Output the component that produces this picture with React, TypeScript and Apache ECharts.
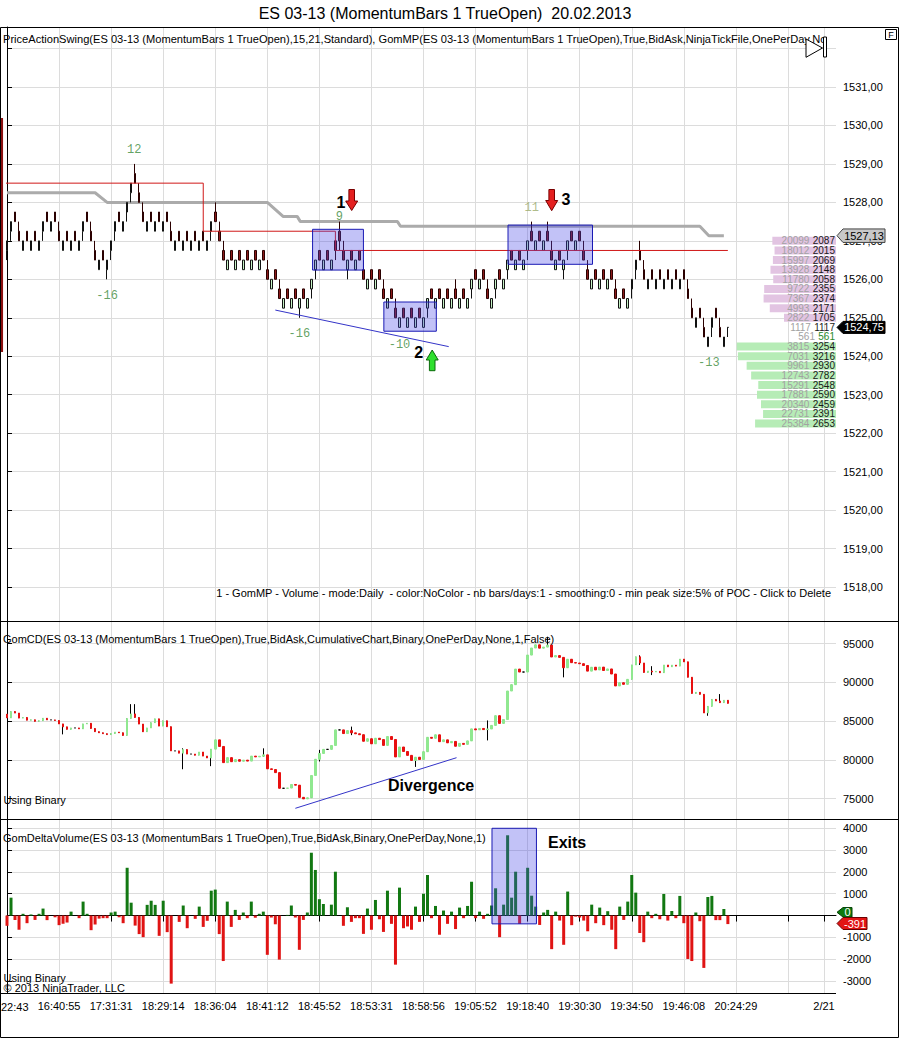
import React, { useEffect, useRef } from "react";
import * as echarts from "echarts";

const FONT = "'Liberation Sans', Arial, Helvetica, sans-serif";
const MONO = "'Liberation Mono', 'DejaVu Sans Mono', monospace";

// ---------- x axis ----------
const SLOTS = 208;
// the first label is cut by the left edge in the reference: only "22:43" shows
const firstTimeLabel = "22:43";
const timeLabelAt: [number, string][] = [
  [13, "16:40:55"], [26, "17:31:31"], [39, "18:29:14"], [52, "18:36:04"],
  [65, "18:41:12"], [78, "18:45:52"], [91, "18:53:31"], [104, "18:58:56"], [117, "19:05:52"],
  [130, "19:18:40"], [143, "19:30:30"], [156, "19:34:50"], [169, "19:46:08"], [182, "20:24:29"],
  [204, "2/21"],
];
const gridLineAt = [0, 13, 26, 39, 52, 65, 78, 91, 104, 117, 130, 143, 156, 169, 182, 195, 204];

// ---------- price bars (ticks of 0.25 from 1527.00) ----------
const priceBase = 1527;
const priceTick = 0.25;
const priceBodyLow = [
  -1, 1, 2, 0, -1, 0, -1, 0, -1, 1,
  2, 1, 2, 0, -1, 0, -1, 0, -1, 1,
  2, 0, -2, -3, -2, -3, -1, 1, 2, 1,
  3, 5, 6, 4, 2, 1, 2, 1, 2, 1,
  2, 0, -1, 0, -1, 0, -1, 0, -1, 0,
  -1, 1, 2, 0, -2, -3, -2, -3, -2, -3,
  -2, -3, -2, -3, -2, -4, -5, -4, -6, -7,
  -6, -7, -6, -7, -6, -7, -5, -3, -2, -3,
  -2, -3, -1, 0, -2, -3, -2, -3, -2, -4,
  -5, -4, -5, -4, -6, -7, -6, -8, -9, -8,
  -9, -8, -9, -8, -9, -7, -6, -7, -6, -7,
  -6, -7, -6, -7, -6, -7, -5, -4, -5, -4,
  -6, -7, -5, -4, -5, -3, -2, -3, -2, -3,
  -1, 0, -1, 0, -1, 0, -2, -3, -2, -3,
  -1, 0, -1, 0, -2, -4, -5, -4, -5, -4,
  -5, -4, -6, -7, -6, -7, -5, -3, -2, -4,
  -5, -4, -5, -4, -5, -4, -5, -4, -5, -4,
  -6, -8, -9, -8, -10, -11, -9, -8, -10, -11,
  -9,
];
// 1 = up bar, -1 = down bar, 0 = doji
const priceDir = [
  1, 1, -1, -1, 1, -1, 1, -1, 1, 1,
  -1, 1, -1, -1, 1, -1, 1, -1, 1, 1,
  -1, -1, -1, 1, -1, 1, 1, 1, -1, 1,
  1, 1, -1, -1, -1, 1, -1, 1, -1, 1,
  -1, -1, 1, -1, 1, -1, 1, -1, 1, -1,
  1, 1, -1, -1, -1, 1, -1, 1, -1, 1,
  -1, 1, -1, 1, -1, -1, 1, -1, -1, 1,
  -1, 1, -1, 1, -1, 1, 1, 1, -1, 1,
  -1, 1, -1, -1, -1, 1, -1, 1, -1, -1,
  1, -1, 1, -1, -1, 1, -1, -1, 1, -1,
  1, -1, 1, -1, 1, 1, -1, 1, -1, 1,
  -1, 1, -1, 1, -1, 1, 1, -1, 1, -1,
  -1, 1, 1, -1, 1, 1, -1, 1, -1, 1,
  1, -1, 1, -1, 1, -1, -1, 1, -1, 1,
  1, -1, 1, -1, -1, -1, 1, -1, 1, -1,
  1, -1, -1, 1, -1, 1, 1, 1, -1, -1,
  1, -1, 1, -1, 1, -1, 1, -1, 1, -1,
  -1, -1, 1, -1, -1, 1, 1, -1, -1, 1,
  0,
];
const priceLowExtra: [number, number][] = [[0, -2], [25, -4], [73, -8], [85, -4], [139, -4]];
const priceHighExtra: [number, number][] = [[32, 8], [52, 4], [83, 2], [112, -4], [131, 2], [135, 2], [158, 0]];

// ---------- delta volume per bar ----------
const deltaValues = [
  -470, 820, -200, -650, 80, -350, 50, -200, 80, 320,
  -210, 0, -80, -440, -380, -320, 180, 0, -120, 640,
  80, -670, -410, -140, -120, -120, 140, 180, -80, -350,
  2190, 590, -460, -850, -990, 490, 680, 490, -930, 680,
  -760, -3120, 0, -290, 460, -580, 0, -150, 410, -520,
  -240, 1140, 1190, -850, -2085, 640, -520, 260, -200, 140,
  -120, 640, -100, 80, 180, -1800, -90, -400, -2020, 0,
  30, 460, -90, -1570, -200, 140, 2880, 2090, 750, 530,
  0, 500, 2010, 0, -470, 380, -290, -120, -120, -840,
  320, -650, 715, -170, -750, 1140, -380, -2250, 1280, -580,
  -500, -650, 410, -290, 1000, 1860, -120, 440, -880, 230,
  -380, 180, -620, 365, -120, 440, 1550, -120, 180, -150,
  80, 460, 1250, -990, 500, 3680, 820, 2010, -380, 0,
  2190, 910, 410, -430, 140, 260, -1540, 180, -230, -1340,
  1100, -440, -50, -90, -230, -720, 500, -350, 365, -440,
  200, -650, -1540, 410, -200, 640, 1860, 1050, -800, -1220,
  180, -120, 80, -170, 990, -230, 210, -120, 900, -350,
  -1990, -2085, 140, -260, -2400, 850, 900, -210, -210, 300,
  -391,
];
// cumulative delta opens at this level before the first bar
const cdStart = 85900;
// [bar, low, high] intrabar extremes of the cumulative delta
const cdWicks: [number, number | null, number | null][] = [
  [14, 83300, null], [31, null, 87200], [32, null, 87200], [44, 78800, 81500], [51, 79200, null],
  [64, 80400, 81500], [78, 79800, 81300], [86, 83200, 84300], [102, 79100, null], [120, 82520, 85100],
  [135, null, 95900], [139, 90660, null], [158, 92250, 93500], [161, 90950, 92100], [175, 85700, null],
  [178, null, 88500],
];

// ---------- overlays ----------
const grayX = [0, 22, 25, 65, 69, 72.5, 73.25, 97.5, 98.25, 173, 175.25, 179];
const grayY = [1528.25, 1528.25, 1528.0, 1528.0, 1527.63, 1527.63, 1527.5, 1527.5, 1527.38, 1527.38, 1527.13, 1527.13];
const redX = [-1.3, 49, 49, 82, 82, 180];
const redY = [1528.5, 1528.5, 1527.25, 1527.25, 1526.75, 1526.75];
const priceTrendX = [67, 110.3];
const priceTrendY = [1525.2, 1524.25];
const cdTrendX = [72, 112.25];
const cdTrendY = [73761, 80290];
// [x1, x2, yTop, yBottom]
const priceBoxes = [
  [76.3, 89.0, 1527.3, 1526.24],
  [94.1, 107.2, 1525.41, 1524.65],
  [125.1, 146.2, 1527.41, 1526.39],
];
const deltaBox = [121.1, 132.2, 4000, -380];

const swingText = ["12", "-16", "9", "-16", "-10", "11", "-13"];
const swingBar = [31.75, 25, 83, 73, 98, 131, 175.25];
const swingPrice = [1529.36, 1525.57, 1527.62, 1524.58, 1524.29, 1527.85, 1523.82];

// ---------- volume profile ----------
const profilePrice = [
  "1527.00", "1526.75", "1526.50", "1526.25", "1526.00", "1525.75", "1525.50", "1525.25", "1525.00", "1524.75",
  "1524.50", "1524.25", "1524.00", "1523.75", "1523.50", "1523.25", "1523.00", "1522.75", "1522.50", "1522.25",
];
const profileCum = [20099, 18012, 15997, 13928, 11780, 9722, 7367, 4993, 2822, 1117, 561, 3815, 7031, 9961, 12743, 15291, 17881, 20340, 22731, 25384];
const profileVol = [2087, 2015, 2069, 2148, 2058, 2355, 2374, 2171, 1705, 1117, 561, 3254, 3216, 2930, 2782, 2548, 2590, 2459, 2391, 2653];

function buildOption() {
  const cats = Array.from({ length: SLOTS }, (_, i) => String(i));
  const labelMap = new Map<number, string>(timeLabelAt);
  const gridSet = new Set(gridLineAt);
  const gridFn = (i: number) => gridSet.has(i);

  // price OHLC
  const lowOv = new Map(priceLowExtra);
  const highOv = new Map(priceHighExtra);
  const priceData: number[][] = [];
  let prevC: number | null = null;
  for (let i = 0; i < priceBodyLow.length; i++) {
    const b = priceBodyLow[i];
    const d = priceDir[i];
    const o = d === -1 ? b + 1 : b;
    const c = d === 1 ? b + 1 : b;
    const pc = prevC === null ? o : prevC;
    let lo = Math.min(o, c, pc);
    let hi = Math.max(o, c, pc);
    if (lowOv.has(i)) lo = Math.min(lo, lowOv.get(i) as number);
    if (highOv.has(i)) hi = Math.max(hi, highOv.get(i) as number);
    priceData.push([o, c, lo, hi].map((t) => priceBase + t * priceTick));
    prevC = c;
  }

  // cumulative delta
  const wickMap = new Map<number, [number | null, number | null]>();
  cdWicks.forEach((w) => wickMap.set(w[0], [w[1], w[2]]));
  const cdFull: number[][] = [];
  const cdBody: number[][] = [];
  let run = cdStart;
  deltaValues.forEach((dv, i) => {
    const o = run;
    const c = run + dv;
    let lo = Math.min(o, c);
    let hi = Math.max(o, c);
    const w = wickMap.get(i);
    if (w) {
      if (w[0] != null) lo = Math.min(lo, w[0]);
      if (w[1] != null) hi = Math.max(hi, w[1]);
    }
    cdFull.push([o, c, lo, hi]);
    cdBody.push([o, c, Math.min(o, c), Math.max(o, c)]);
    run = c;
  });

  const gridColor = "#dcdcdc";
  const splitCat = { show: true, interval: gridFn, lineStyle: { color: gridColor, width: 1 } };
  const hiddenCat = (gi: number) => ({
    type: "category", gridIndex: gi, data: cats, boundaryGap: false,
    axisLine: { show: false }, axisTick: { show: false }, axisLabel: { show: false },
    splitLine: splitCat,
  });
  const rightAxisCommon = {
    position: "right",
    axisLine: { show: true, lineStyle: { color: "#000", width: 1 } },
    axisTick: { show: true, length: 5, lineStyle: { color: "#000" } },
    splitLine: { show: true, lineStyle: { color: gridColor, width: 1 } },
  };
  const isMult = (v: number, m: number) => Math.abs(v / m - Math.round(v / m)) < 1e-6;

  const txt = (x: number, y: number, text: string, o: any = {}) => ({
    type: "text", x, y, z: o.z ?? 50,
    style: {
      text, fill: o.fill ?? "#000", fontSize: o.fontSize ?? 11, fontFamily: o.fontFamily ?? FONT,
      fontWeight: o.fontWeight ?? "normal",
      align: o.align ?? "left", textAlign: o.align ?? "left",
      verticalAlign: "middle", textVerticalAlign: "middle",
    },
  });
  const downArrow = (cx: number, top: number, headTop: number, tip: number) => ({
    type: "polygon", z: 60,
    shape: { points: [[cx - 2.8, top], [cx + 2.8, top], [cx + 2.8, headTop], [cx + 6, headTop], [cx, tip], [cx - 6, headTop], [cx - 2.8, headTop]] },
    style: { fill: "#e42020", stroke: "#7a0000", lineWidth: 1 },
  });
  const upArrow = (cx: number, tip: number, headBottom: number, bottom: number) => ({
    type: "polygon", z: 60,
    shape: { points: [[cx, tip], [cx + 6, headBottom], [cx + 2.8, headBottom], [cx + 2.8, bottom], [cx - 2.8, bottom], [cx - 2.8, headBottom], [cx - 6, headBottom]] },
    style: { fill: "#2ee02e", stroke: "#0a6a0a", lineWidth: 1 },
  });
  const tag = (y: number, h: number, w: number, text: string, fill: string, stroke: string, color: string) => ({
    type: "group", z: 80,
    children: [
      {
        type: "polygon", z: 80,
        shape: { points: [[837, y], [843, y - h / 2], [837 + w, y - h / 2], [837 + w, y + h / 2], [843, y + h / 2]] },
        style: { fill, stroke, lineWidth: 1 },
      },
      { ...txt(843 + (w - 6) / 2, y, text, { fill: color, align: "center", z: 81 }) },
    ],
  });

  const elements: any[] = [
    txt(445, 13, "ES 03-13 (MomentumBars 1 TrueOpen)  20.02.2013", { fontSize: 16, align: "center" }),
    { type: "rect", z: 90, shape: { x: 0.5, y: 27.5, width: 898, height: 1010 }, style: { fill: "none", stroke: "#000", lineWidth: 1 } },
    { type: "line", z: 90, shape: { x1: 0, y1: 621.5, x2: 899, y2: 621.5 }, style: { stroke: "#000", lineWidth: 1 } },
    { type: "line", z: 90, shape: { x1: 0, y1: 819.5, x2: 899, y2: 819.5 }, style: { stroke: "#000", lineWidth: 1 } },
    { type: "line", z: 90, shape: { x1: 0, y1: 993.5, x2: 836, y2: 993.5 }, style: { stroke: "#000", lineWidth: 1 } },
    { type: "line", z: 40, shape: { x1: 1.8, y1: 118, x2: 1.8, y2: 352 }, style: { stroke: "#8b1010", lineWidth: 2.5 } },
    txt(3, 39, "PriceActionSwing(ES 03-13 (MomentumBars 1 TrueOpen),15,21,Standard), GomMP(ES 03-13 (MomentumBars 1 TrueOpen),True,BidAsk,NinjaTickFile,OnePerDay,No", { fontSize: 11.1 }),
    txt(831, 593, "1 - GomMP - Volume - mode:Daily  - color:NoColor - nb bars/days:1 - smoothing:0 - min peak size:5% of POC - Click to Delete", { align: "right" }),
    txt(3, 639, "GomCD(ES 03-13 (MomentumBars 1 TrueOpen),True,BidAsk,CumulativeChart,Binary,OnePerDay,None,1,False)"),
    txt(3.5, 800, "Using Binary"),
    txt(3, 838, "GomDeltaVolume(ES 03-13 (MomentumBars 1 TrueOpen),True,BidAsk,Binary,OnePerDay,None,1)"),
    txt(3.5, 978, "Using Binary"),
    txt(3.5, 988, "© 2013 NinjaTrader, LLC"),
    txt(1, 1006.5, firstTimeLabel),
    txt(388, 785, "Divergence", { fontSize: 16, fontWeight: "bold" }),
    txt(548, 842, "Exits", { fontSize: 16, fontWeight: "bold" }),
    // play / end icon
    { type: "polygon", z: 60, shape: { points: [[806, 39], [822.5, 48], [806, 57.3]] }, style: { fill: "#fff", stroke: "#000", lineWidth: 1 } },
    { type: "rect", z: 60, shape: { x: 823.5, y: 37, width: 3, height: 20 }, style: { fill: "#fff", stroke: "#000", lineWidth: 1 } },
    { type: "rect", z: 60, shape: { x: 885.5, y: 29.5, width: 11, height: 10 }, style: { fill: "#fff", stroke: "#000", lineWidth: 1 } },
    txt(891, 34.8, "F", { fontSize: 9, align: "center", z: 61 }),
    // trade arrows
    downArrow(351.7, 189.5, 201, 210.5),
    txt(341, 202.5, "1", { fontSize: 16, fontWeight: "bold", align: "center" }),
    upArrow(432.2, 350, 360, 370.7),
    txt(418.7, 352.5, "2", { fontSize: 16, fontWeight: "bold", align: "center" }),
    downArrow(551.7, 189.5, 200.5, 210.7),
    txt(566, 199.7, "3", { fontSize: 16, fontWeight: "bold", align: "center" }),
    // price / value tags on the axes
    tag(235.7, 13.5, 48, "1527,13", "#c8c8c8", "#444", "#000"),
    tag(327.4, 12, 48, "1524,75", "#000", "#000", "#fff"),
    tag(912.3, 9.5, 15, "0", "#0e7a0e", "#064006", "#fff"),
    tag(923.5, 12, 30, "-391", "#e21414", "#6a0000", "#fff"),
  ];

  const boxStyle = { color: "rgba(70,70,230,0.33)", borderColor: "#1a1ab4", borderWidth: 1 };

  return {
    animation: false,
    backgroundColor: "#ffffff",
    textStyle: { fontFamily: FONT },
    grid: [
      { left: 7, top: 27, width: 829, height: 594, containLabel: false, outerBoundsMode: "none" },
      { left: 7, top: 621, width: 829, height: 198, containLabel: false, outerBoundsMode: "none" },
      { left: 7, top: 819, width: 829, height: 174, containLabel: false, outerBoundsMode: "none" },
      { left: 7, top: 236.04, width: 829, height: 192.3, containLabel: false, outerBoundsMode: "none" },
    ],
    xAxis: [
      hiddenCat(0),
      hiddenCat(1),
      {
        type: "category", gridIndex: 2, data: cats, boundaryGap: false,
        axisLine: { show: true, lineStyle: { color: "#000" } },
        axisTick: { show: true, interval: gridFn, length: 6, lineStyle: { color: "#000" } },
        axisLabel: {
          show: true, interval: (i: number) => labelMap.has(i), color: "#000", fontSize: 11, margin: 7,
          formatter: (v: string) => labelMap.get(Number(v)) ?? "",
        },
        splitLine: splitCat,
      },
      { type: "value", gridIndex: 0, min: 0, max: SLOTS - 1, show: false },
      { type: "value", gridIndex: 1, min: 0, max: SLOTS - 1, show: false },
      { type: "value", gridIndex: 2, min: 0, max: SLOTS - 1, show: false },
      { type: "value", gridIndex: 3, min: 0, max: 27180, inverse: true, show: false },
    ],
    yAxis: [
      {
        ...rightAxisCommon, type: "value", gridIndex: 0, min: 1517.116, max: 1532.56,
        splitNumber: 15, minInterval: 1, maxInterval: 1,
        axisLabel: {
          color: "#000", fontSize: 11, margin: 7,
          formatter: (v: number) => (isMult(v, 1) && v >= 1518 && v <= 1531 ? Math.round(v).toFixed(2).replace(".", ",") : ""),
        },
      },
      {
        ...rightAxisCommon, type: "value", gridIndex: 1, min: 72380, max: 97929,
        splitNumber: 5, minInterval: 5000, maxInterval: 5000,
        axisLabel: { color: "#000", fontSize: 11, margin: 7, formatter: (v: number) => (isMult(v, 5000) ? String(Math.round(v)) : "") },
      },
      {
        ...rightAxisCommon, type: "value", gridIndex: 2, min: -3550, max: 4426,
        splitNumber: 8, minInterval: 1000, maxInterval: 1000,
        axisLabel: { color: "#000", fontSize: 11, margin: 7, formatter: (v: number) => (isMult(v, 1000) && Math.round(v) !== 0 ? String(Math.round(v)) : "") },
      },
      { type: "category", gridIndex: 3, data: profilePrice, inverse: true, show: false },
    ],
    series: [
      {
        type: "line", name: "avg", xAxisIndex: 3, yAxisIndex: 0, z: 1, symbol: "none", silent: true,
        data: grayX.map((x, i) => [x, grayY[i]]),
        lineStyle: { color: "#ababab", width: 3 },
      },
      {
        type: "candlestick", name: "ES", xAxisIndex: 0, yAxisIndex: 0, data: priceData, barWidth: 2, clip: false,
        itemStyle: { color: "#c6f2c6", color0: "#8b1a1a", borderColor: "#111", borderColor0: "#2a0000", borderColorDoji: "#111", borderWidth: 1 },
      },
      {
        type: "line", name: "levels", xAxisIndex: 3, yAxisIndex: 0, z: 3, symbol: "none", clip: false, silent: true,
        data: redX.map((x, i) => [x, redY[i]]),
        lineStyle: { color: "#d01818", width: 1 },
      },
      {
        type: "line", name: "trend", xAxisIndex: 3, yAxisIndex: 0, z: 5, symbol: "none", silent: true,
        data: priceTrendX.map((x, i) => [x, priceTrendY[i]]),
        lineStyle: { color: "#3434c8", width: 1 },
        markArea: {
          silent: true, z: 5, itemStyle: boxStyle,
          data: priceBoxes.map((b) => [{ coord: [b[0], b[2]] }, { coord: [b[1], b[3]] }]),
        },
      },
      {
        type: "scatter", name: "swings", xAxisIndex: 3, yAxisIndex: 0, z: 6, symbolSize: 1, silent: true,
        itemStyle: { color: "rgba(0,0,0,0)" },
        data: swingText.map((t, i) => ({
          name: t, value: [swingBar[i], swingPrice[i]],
          label: { color: t === "11" ? "#9aaa6a" : "#3a8a3a" },
        })),
        label: { show: true, position: "inside", formatter: "{b}", fontFamily: MONO, fontSize: 12 },
      },
      {
        type: "candlestick", name: "cdWick", xAxisIndex: 1, yAxisIndex: 1, data: cdFull, barWidth: 1, clip: false,
        itemStyle: { color: "#000", color0: "#000", borderColor: "#000", borderColor0: "#000", borderColorDoji: "#000", borderWidth: 1 },
      },
      {
        type: "candlestick", name: "cd", xAxisIndex: 1, yAxisIndex: 1, data: cdBody, barWidth: 2, clip: false,
        itemStyle: { color: "#90e890", color0: "#e81010", borderColor: "#90e890", borderColor0: "#e81010", borderColorDoji: "#000", borderWidth: 1 },
      },
      {
        type: "line", name: "cdTrend", xAxisIndex: 4, yAxisIndex: 1, z: 5, symbol: "none", silent: true,
        data: cdTrendX.map((x, i) => [x, cdTrendY[i]]),
        lineStyle: { color: "#3434c8", width: 1 },
      },
      {
        type: "bar", name: "delta", xAxisIndex: 2, yAxisIndex: 2, barWidth: 3, clip: false,
        data: deltaValues.map((v) => ({ value: v, itemStyle: { color: v >= 0 ? "#127812" : "#e01414" } })),
      },
      {
        type: "line", name: "exitBox", xAxisIndex: 5, yAxisIndex: 2, z: 5, symbol: "none", silent: true,
        data: [[deltaBox[0], deltaBox[3]], [deltaBox[1], deltaBox[3]]],
        lineStyle: { width: 0, opacity: 0 },
        markArea: {
          silent: true, z: 5, itemStyle: boxStyle,
          data: [[{ coord: [deltaBox[0], deltaBox[2]] }, { coord: [deltaBox[1], deltaBox[3]] }]],
        },
      },
      {
        type: "bar", name: "profile", xAxisIndex: 6, yAxisIndex: 3, barWidth: 8, z: 4, silent: true,
        data: profileVol.map((v, i) => ({
          value: v,
          itemStyle: { color: i < 9 ? "#e2c4e2" : i < 11 ? "rgba(0,0,0,0)" : "#b6ecb6" },
        })),
        label: {
          show: true, position: "insideRight", distance: 1,
          formatter: (p: any) => `{a|${profileCum[p.dataIndex]}} {${p.dataIndex === 10 ? "g" : "b"}|${profileVol[p.dataIndex]}}`,
          rich: {
            a: { color: "#a2a2a2", fontSize: 10, fontFamily: FONT },
            b: { color: "#1a1a1a", fontSize: 10, fontFamily: FONT },
            g: { color: "#2a8a2a", fontSize: 10, fontFamily: FONT },
          },
        },
      },
    ],
    graphic: { elements },
  };
}

export default function App() {
  const ref = useRef<HTMLDivElement>(null);
  useEffect(() => {
    if (!ref.current) return;
    const chart = echarts.init(ref.current, undefined, { renderer: "svg" });
    chart.setOption(buildOption() as any);
    return () => chart.dispose();
  }, []);
  return (
    <div
      ref={ref}
      style={{ position: "absolute", left: 0, top: 0, width: 900, height: 1039, background: "#fff" }}
    />
  );
}
